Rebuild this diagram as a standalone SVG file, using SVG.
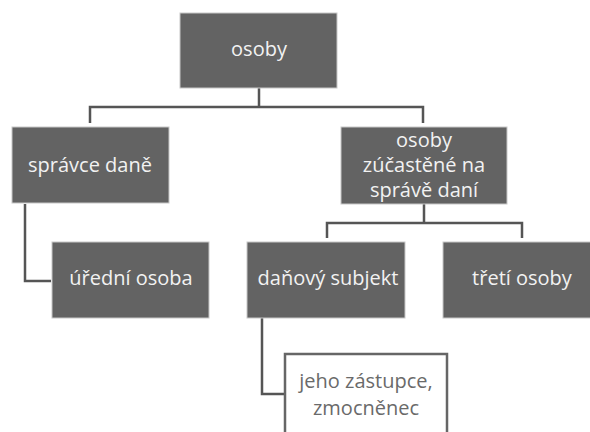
<svg xmlns="http://www.w3.org/2000/svg" width="590" height="432" viewBox="0 0 590 432">
<style>
.box{fill:#636363;stroke:#c8c8c8;stroke-width:1}
.wbox{fill:#ffffff;stroke:#666666;stroke-width:2.5}
.t{font-family:"Open Sans","Liberation Sans",sans-serif;font-size:20px;fill:#f2f2f2;text-anchor:middle}
.td{font-family:"Open Sans","Liberation Sans",sans-serif;font-size:20px;fill:#6a6a6a;text-anchor:middle}
.c{fill:none;stroke:#555555;stroke-width:2.5}
</style>
<rect width="590" height="432" fill="#ffffff"/>
<g id="connectors">
<path class="c" d="M259,88 V107 M90,123 V107 H423 V123"/>
<path class="c" d="M25,204 V281 H51"/>
<path class="c" d="M424,204 V223 M327,238 V223 H522 V238"/>
<path class="c" d="M262,318 V394 H285"/>
</g>
<g id="osoby">
<rect class="box" x="180" y="13" width="157" height="75"/>
<text class="t" x="259" y="56">osoby</text>
</g>
<g id="spravce-dane">
<rect class="box" x="12" y="127" width="157" height="76"/>
<text class="t" x="90" y="172">správce daně</text>
</g>
<g id="osoby-zucastene">
<rect class="box" x="341" y="127" width="166" height="77"/>
<text class="t" x="424" y="147">osoby</text>
<text class="t" x="424" y="172">zúčastěné na</text>
<text class="t" x="424" y="197">správě daní</text>
</g>
<g id="uredni-osoba">
<rect class="box" x="52" y="242" width="157" height="76"/>
<text class="t" x="131" y="285">úřední osoba</text>
</g>
<g id="danovy-subjekt">
<rect class="box" x="247" y="242" width="158" height="76"/>
<text class="t" x="328" y="285">daňový subjekt</text>
</g>
<g id="treti-osoby">
<rect class="box" x="443" y="242" width="157" height="76"/>
<text class="t" x="522" y="285">třetí osoby</text>
</g>
<g id="zastupce">
<rect class="wbox" x="285" y="354" width="162" height="90"/>
<text class="td" x="366" y="388">jeho zástupce,</text>
<text class="td" x="366" y="415">zmocněnec</text>
</g>
</svg>
